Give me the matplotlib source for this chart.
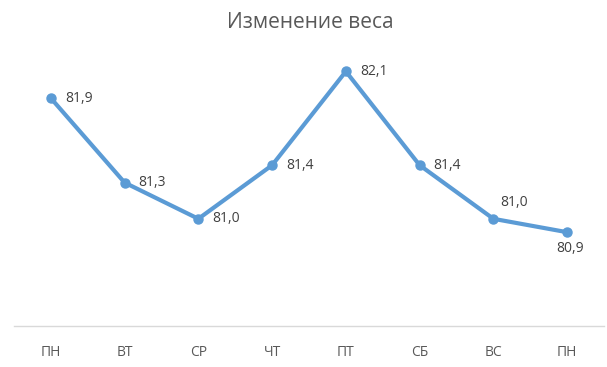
import matplotlib
matplotlib.use('Agg')
import matplotlib.pyplot as plt

days = ['ПН', 'ВТ', 'СР', 'ЧТ', 'ПТ', 'СБ', 'ВС', 'ПН']
weight = [81.9, 81.27, 81.0, 81.4, 82.1, 81.4, 81.0, 80.9]
labels = ['81,9', '81,3', '81,0', '81,4', '82,1', '81,4', '81,0', '80,9']

plt.rcParams['font.family'] = ['Open Sans', 'DejaVu Sans']

fig = plt.figure(figsize=(6.07, 3.67), dpi=100)
ax = fig.add_axes([14 / 607, 41 / 367, 590 / 607, 268 / 367])

x = range(len(days))
ax.plot(x, weight, color='#5B9BD5', linewidth=3, marker='o', markersize=6.5,
        solid_capstyle='round', solid_joinstyle='round')

# data labels: right of the point, except the last two
for i, (v, t) in enumerate(zip(weight, labels)):
    if i == 6:
        ax.annotate(t, (i, v), xytext=(21, 16), textcoords='offset pixels',
                    ha='center', va='center', fontsize=10, color='#404040')
    elif i == 7:
        ax.annotate(t, (i, v), xytext=(3, -16), textcoords='offset pixels',
                    ha='center', va='center', fontsize=10, color='#404040')
    else:
        ax.annotate(t, (i, v), xytext=(14, 0), textcoords='offset pixels',
                    ha='left', va='center', fontsize=10, color='#404040')

ax.set_xlim(-0.5, len(days) - 0.5)
ax.set_ylim(80.2, 82.2)
ax.set_xticks(list(x))
ax.set_xticklabels(days, fontsize=10, color='#595959')
ax.set_yticks([])
ax.tick_params(axis='x', length=0, pad=14)
for s in ['top', 'right', 'left']:
    ax.spines[s].set_visible(False)
ax.spines['bottom'].set_color('#D9D9D9')
ax.spines['bottom'].set_linewidth(1)

fig.text(310 / 607, 1 - 22 / 367, 'Изменение веса', ha='center', va='center',
         fontsize=15, color='#595959')

fig.savefig('out.png', dpi=100)
